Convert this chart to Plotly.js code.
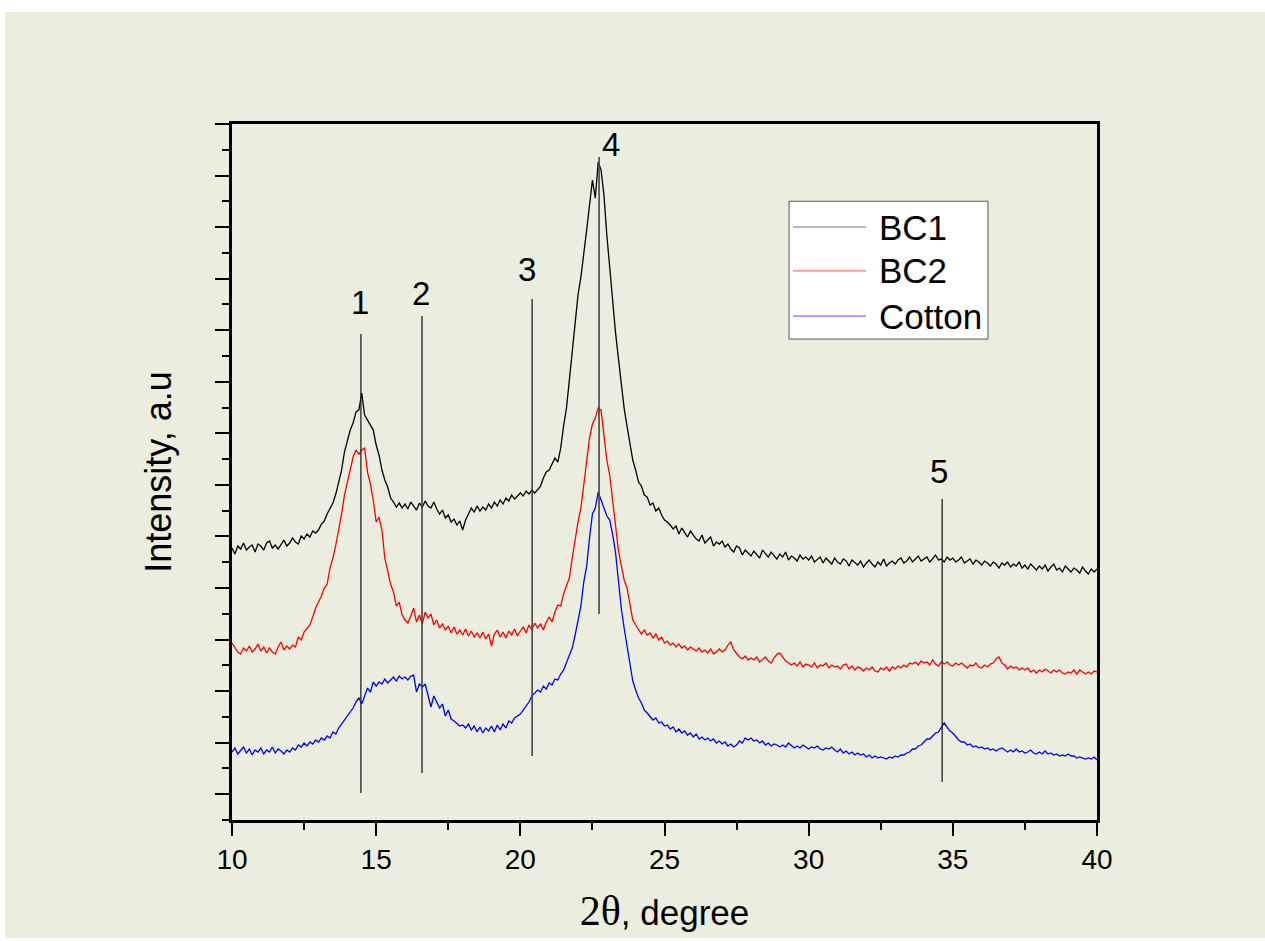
<!DOCTYPE html>
<html>
<head>
<meta charset="utf-8">
<script src="https://cdn.plot.ly/plotly-3.0.1.min.js"></script>
<style>html,body{margin:0;padding:0;background:#fff;}#chart{width:1265px;height:941px;}</style>
</head>
<body>
<div id="chart"></div>
<script>
// 2-theta sampling: start and step (degrees)
const theta0 = 10;
const thetaStep = 0.1;

// Intensity (arbitrary units), 10.0 ... 40.0 deg, step 0.1
const bc1 = [
272,266,274,271,277,270,273,275,268,276,
274,270,277,279,272,275,271,276,280,274,
277,282,278,276,284,281,286,283,289,287,
290,296,299,306,312,317,326,338,350,368,
380,390,397,408,410,427,405,400,394,390,
375,365,350,340,333,322,318,313,317,312,
316,311,318,314,310,317,313,319,314,312,
318,311,306,310,302,305,298,301,295,299,
290,300,306,312,308,314,309,313,310,316,
312,318,314,320,316,322,319,325,321,324,
327,324,329,326,330,327,331,334,342,348,
350,356,362,358,372,394,412,440,470,500,
525,543,570,590,615,640,622,658,650,625,
585,550,515,488,462,434,412,394,375,360,
350,338,334,325,323,315,317,309,312,305,
300,298,295,291,294,286,292,288,283,289,
285,281,279,285,277,280,283,274,278,276,
279,273,276,271,268,274,272,265,270,267,
264,269,266,262,270,267,263,268,264,261,
266,263,268,260,264,262,259,265,261,263,
260,264,258,261,263,257,262,259,256,262,
258,256,261,259,254,260,257,255,259,253,
257,260,256,253,258,255,261,254,257,259,
256,260,262,257,259,263,258,261,264,259,
261,263,258,262,265,260,261,258,263,260,
262,258,260,263,257,259,261,256,260,258,
255,259,257,254,258,256,252,257,255,258,
253,256,254,258,252,255,251,256,253,250,
254,251,255,249,253,256,250,252,248,254,
251,248,252,250,247,253,249,246,251,248,
251];

const bc2 = [
177,172,168,166,172,169,174,168,171,176,
169,173,167,172,168,166,173,178,170,174,
171,175,173,183,180,188,191,195,203,212,
218,224,232,236,252,262,275,290,306,325,
338,350,363,370,366,370,372,348,336,320,
298,303,290,262,248,236,228,214,218,205,
200,197,204,212,198,205,196,208,202,206,
195,200,192,196,190,194,187,193,186,190,
185,191,184,189,183,187,182,188,181,186,
174,186,190,183,188,182,189,185,191,184,
189,193,187,195,190,197,192,196,190,198,
203,198,208,215,214,226,234,242,262,282,
298,312,335,355,382,396,402,412,410,385,
360,345,318,292,270,255,240,232,215,200,
195,191,186,190,185,187,182,186,180,183,
177,179,175,177,173,176,172,174,170,173,
171,169,172,168,170,167,171,166,168,171,
168,170,175,178,170,166,163,161,164,160,
162,160,163,158,161,163,159,157,162,166,
167,163,159,157,155,157,154,158,153,156,
155,153,157,152,155,154,157,152,155,153,
154,151,155,156,151,154,150,153,152,149,
152,150,153,149,148,152,150,153,149,153,
151,154,152,155,153,157,156,158,155,159,
157,158,155,160,156,154,158,156,158,155,
154,157,155,157,154,152,155,154,157,153,
152,155,153,156,157,161,163,157,155,151,
154,152,153,150,152,150,152,148,150,147,
150,148,151,149,147,150,148,150,147,146,
148,147,150,146,150,148,146,148,146,149,
148];

const cotton = [
68,72,66,70,73,67,71,65,70,68,
72,66,70,68,73,67,71,69,66,70,
68,72,70,75,73,77,74,78,76,80,
78,82,80,84,82,88,86,92,96,100,
104,108,112,118,122,116,124,132,128,138,
134,138,136,141,137,140,143,139,144,141,
143,140,144,145,128,136,133,136,125,113,
124,118,112,116,104,110,101,99,96,94,
95,92,96,90,94,88,93,87,92,89,
94,88,95,90,96,92,99,97,102,104,
106,110,114,118,124,127,130,128,134,131,
137,135,141,140,146,150,158,164,172,185,
198,214,238,254,282,306,312,328,320,312,
304,300,286,268,240,212,192,174,155,139,
130,122,117,110,107,103,100,102,97,98,
94,95,91,93,88,91,87,89,85,87,
83,86,81,83,80,82,79,81,77,79,
76,78,74,76,73,75,79,77,82,80,
82,79,80,77,79,75,77,74,76,75,
73,75,73,77,74,72,74,72,75,73,
71,73,72,74,71,70,72,71,73,70,
68,71,67,69,66,68,65,67,65,66,
63,65,62,64,62,63,62,61,63,62,
64,63,65,65,67,68,71,71,74,75,
78,81,81,84,87,88,92,97,93,89,
87,83,80,78,78,75,76,73,74,72,
73,71,72,70,71,69,71,72,70,68,
70,68,71,68,69,67,68,70,67,66,
68,66,69,66,67,65,66,64,65,64,
66,64,64,62,63,62,61,62,61,63,
60];

const seriesNames = ["BC1", "BC2", "Cotton"];
const seriesColors = ["#000000", "#ff0000", "#0000ff"];

// Peak marker lines: label, position, top and bottom of the line
const peakLabels = ["1", "2", "3", "4", "5"];
const peakPos    = [14.47, 16.59, 20.41, 22.73, 34.63];
const peakTop    = [486, 504, 521, 663, 321];
const peakBottom = [27, 47, 64, 206, 38];
const labelX     = [14.44, 16.55, 20.23, 23.16, 34.52];
const labelY     = [518, 527, 551, 676, 349];

const xTicks = [10, 15, 20, 25, 30, 35, 40];

const BG = "#ebeedf";
const FONT = "Liberation Sans, Arial, sans-serif";

const data = [bc1, bc2, cotton].map((ys, i) => ({
  type: "scatter", mode: "lines",
  x0: theta0, dx: thetaStep, y: ys,
  name: seriesNames[i],
  line: {color: seriesColors[i], width: 1.3},
  showlegend: false, hoverinfo: "x+y+name"
}));

const shapes = [];
// background panel
shapes.push({type: "rect", xref: "paper", yref: "paper", x0: -0.2624, x1: 1.1942, y0: -0.1695, y1: 1.1609,
  fillcolor: BG, line: {width: 0}, layer: "below"});
peakPos.forEach((p, i) => {
  shapes.push({type: "line", xref: "x", yref: "y", x0: p, x1: p, y0: peakBottom[i], y1: peakTop[i],
    line: {color: i === 0 || i === 4 ? "#222" : "#444", width: i === 0 || i === 4 ? 1.3 : 1.6}});
});
// legend box
const lgX0 = 0.644, lgX1 = 0.874, lgY0 = 0.691, lgY1 = 0.889;
const lgRows = [0.852, 0.789, 0.724];
shapes.push({type: "rect", xref: "paper", yref: "paper", x0: lgX0, x1: lgX1, y0: lgY0, y1: lgY1,
  fillcolor: "#ffffff", line: {color: "#555", width: 1}});
lgRows.forEach((yy, i) => {
  shapes.push({type: "line", xref: "paper", yref: "paper", x0: 0.6486, x1: 0.733, y0: yy, y1: yy,
    line: {color: seriesColors[i], width: 1.2}, opacity: 0.55});
});

const annotations = [];
peakLabels.forEach((t, i) => {
  annotations.push({text: t, x: labelX[i], y: labelY[i], xref: "x", yref: "y", showarrow: false,
    font: {family: FONT, size: 33, color: "#000"}, xanchor: "center", yanchor: "middle"});
});
lgRows.forEach((yy, i) => {
  annotations.push({text: seriesNames[i], x: 0.7457, y: yy, xref: "paper", yref: "paper", showarrow: false,
    font: {family: FONT, size: 35, color: "#000"}, xanchor: "left", yanchor: "middle"});
});

const layout = {
  width: 1265, height: 941,
  margin: {l: 232, r: 168, t: 124, b: 121, pad: 0},
  paper_bgcolor: "#ffffff", plot_bgcolor: BG,
  showlegend: false,
  xaxis: {
    range: [10, 40], tickvals: xTicks, ticktext: xTicks.map(String),
    ticks: "outside", ticklen: 13, tickwidth: 2, tickcolor: "#000",
    minor: {dtick: 2.5, tick0: 10, ticks: "outside", ticklen: 7, tickwidth: 2, tickcolor: "#000"},
    showline: true, linewidth: 2.5, linecolor: "#000", mirror: true,
    showgrid: false, zeroline: false,
    tickfont: {family: FONT, size: 28, color: "#000"},
    title: {text: '<span style="font-family:Liberation Serif, Times New Roman, serif;font-size:42px">2θ</span>, degree',
      font: {family: FONT, size: 35, color: "#000"}, standoff: 27}
  },
  yaxis: {
    range: [0, 696.1], tick0: 25.78, dtick: 51.56,
    ticks: "outside", ticklen: 14, tickwidth: 2, tickcolor: "#000",
    minor: {dtick: 25.78, tick0: 0, ticks: "outside", ticklen: 7, tickwidth: 2, tickcolor: "#000"},
    showticklabels: false,
    showline: true, linewidth: 2.5, linecolor: "#000", mirror: true,
    showgrid: false, zeroline: false,
    title: {text: "Intensity, a.u", font: {family: FONT, size: 36, color: "#000"}, standoff: 33}
  },
  shapes: shapes,
  annotations: annotations
};

Plotly.newPlot("chart", data, layout, {displayModeBar: false, staticPlot: false});
</script>
</body>
</html>
